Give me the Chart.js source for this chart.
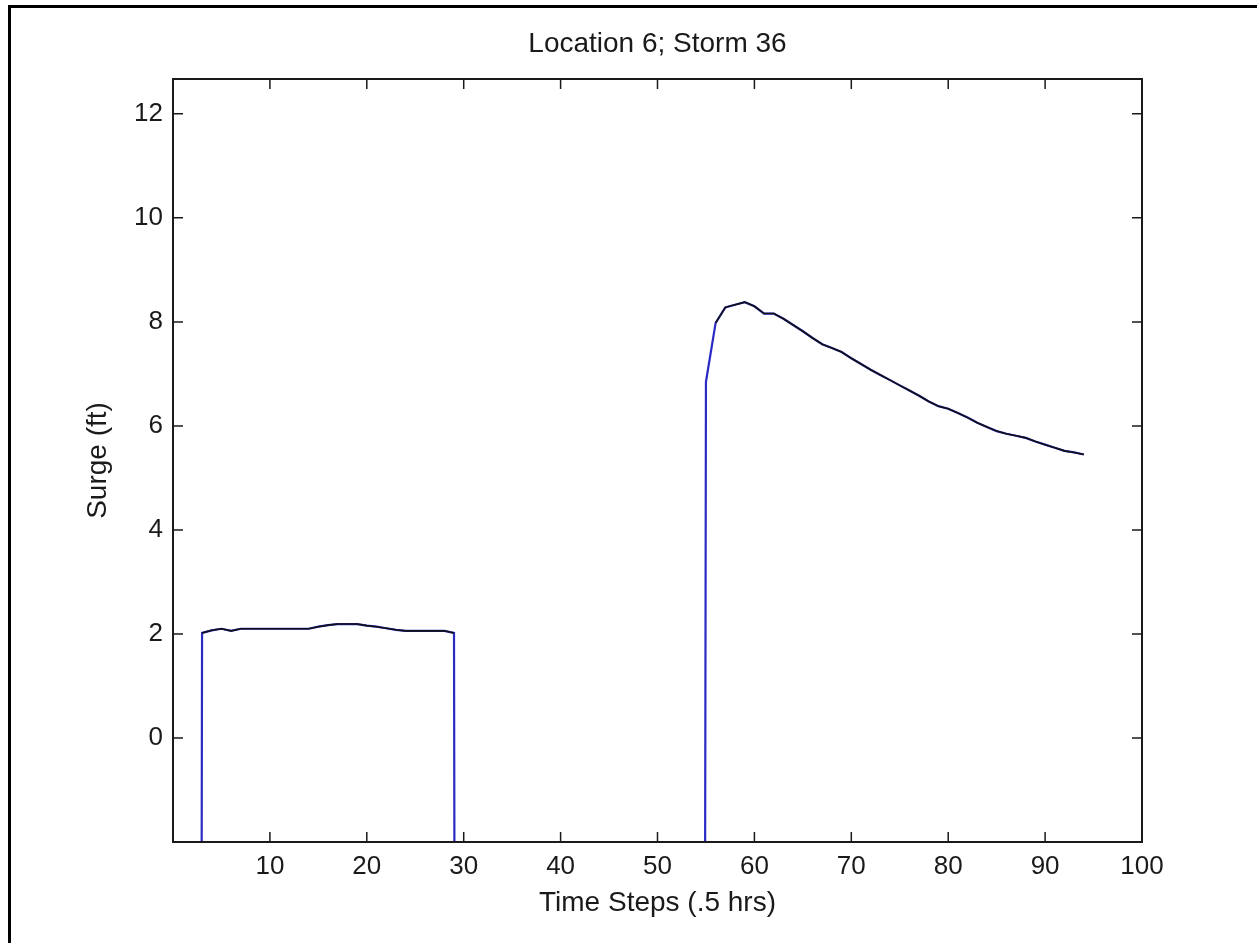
<!DOCTYPE html>
<html><head><meta charset="utf-8">
<script src="https://cdn.jsdelivr.net/npm/chart.js@4/dist/chart.umd.min.js"></script>
<style>
html,body{margin:0;padding:0;background:#fff;overflow:hidden;}
#wrap{position:relative;width:1257px;height:943px;background:#fff;}
#frame{position:absolute;left:8px;top:5px;width:1300px;height:1000px;border-left:3px solid #000;border-top:3px solid #000;pointer-events:none;}
canvas{position:absolute;left:0;top:0;}
</style></head><body>
<div id="wrap"><canvas id="c" width="1257" height="943"></canvas><div id="frame"></div></div>
<script>
// ---- data ----
const titleText = 'Location 6; Storm 36';
const xLabel = 'Time Steps (.5 hrs)';
const yLabel = 'Surge (ft)';

const timeSteps = [1,2,3,4,5,6,7,8,9,10,11,12,13,14,15,16,17,18,19,20,
  21,22,23,24,25,26,27,28,29,30,31,32,33,34,35,36,37,38,39,40,
  41,42,43,44,45,46,47,48,49,50,51,52,53,54,55,56,57,58,59,60,
  61,62,63,64,65,66,67,68,69,70,71,72,73,74,75,76,77,78,79,80,
  81,82,83,84,85,86,87,88,89,90,91,92,93,94];

// full record (dry steps stored as -99, drawn off the bottom of the axes)
const surgeAll = [-99,-99,2.02,2.07,2.10,2.06,2.10,2.10,2.10,2.10,
  2.10,2.10,2.10,2.10,2.14,2.17,2.19,2.19,2.19,2.16,
  2.14,2.11,2.08,2.06,2.06,2.06,2.06,2.06,2.02,-99,
  -99,-99,-99,-99,-99,-99,-99,-99,-99,-99,
  -99,-99,-99,-99,-99,-99,-99,-99,-99,-99,
  -99,-99,-99,-99,6.85,7.98,8.28,8.33,8.38,8.30,
  8.16,8.16,8.06,7.94,7.82,7.69,7.57,7.50,7.42,7.30,
  7.19,7.08,6.98,6.88,6.78,6.68,6.58,6.47,6.38,6.33,
  6.25,6.16,6.06,5.98,5.90,5.85,5.81,5.77,5.70,5.64,
  5.58,5.52,5.49,5.45];

// wet steps only
const surgeWet = [null,null,2.02,2.07,2.10,2.06,2.10,2.10,2.10,2.10,
  2.10,2.10,2.10,2.10,2.14,2.17,2.19,2.19,2.19,2.16,
  2.14,2.11,2.08,2.06,2.06,2.06,2.06,2.06,2.02,null,
  null,null,null,null,null,null,null,null,null,null,
  null,null,null,null,null,null,null,null,null,null,
  null,null,null,null,null,7.98,8.28,8.33,8.38,8.30,
  8.16,8.16,8.06,7.94,7.82,7.69,7.57,7.50,7.42,7.30,
  7.19,7.08,6.98,6.88,6.78,6.68,6.58,6.47,6.38,6.33,
  6.25,6.16,6.06,5.98,5.90,5.85,5.81,5.77,5.70,5.64,
  5.58,5.52,5.49,5.45];

const xTicks = [10,20,30,40,50,60,70,80,90,100];
const yTicks = [0,2,4,6,8,10,12];

// ---- chart ----
const textColor = '#1a1a1a';
const fontFamily = '"Liberation Sans", Arial, sans-serif';

const toPoints = (ys) => timeSteps.map((t, i) => ({x: t, y: ys[i]}));

const matlabAxes = {
  id: 'matlabAxes',
  afterDatasetsDraw(chart) {
    const {ctx, chartArea: a, scales: {x, y}} = chart;
    const L = 10;
    ctx.save();
    ctx.strokeStyle = '#1a1a1a';
    ctx.lineWidth = 1.5;
    ctx.beginPath();
    x.ticks.forEach(t => {
      const px = x.getPixelForValue(t.value);
      ctx.moveTo(px, a.bottom); ctx.lineTo(px, a.bottom - L);
      ctx.moveTo(px, a.top); ctx.lineTo(px, a.top + L);
    });
    y.ticks.forEach(t => {
      const py = y.getPixelForValue(t.value);
      ctx.moveTo(a.left, py); ctx.lineTo(a.left + L, py);
      ctx.moveTo(a.right, py); ctx.lineTo(a.right - L, py);
    });
    ctx.stroke();
    ctx.lineWidth = 2;
    ctx.strokeRect(a.left, a.top, a.right - a.left, a.bottom - a.top);
    ctx.restore();
  }
};

new Chart(document.getElementById('c'), {
  type: 'line',
  data: {
    datasets: [
      {label: 'wet', data: toPoints(surgeWet), borderColor: '#111111', borderWidth: 1.6,
       pointRadius: 0, tension: 0, spanGaps: false, fill: false},
      {label: 'all', data: toPoints(surgeAll), borderColor: '#2a2ac4', borderWidth: 2.2,
       pointRadius: 0, tension: 0, spanGaps: false, fill: false}
    ]
  },
  options: {
    responsive: false,
    animation: false,
    layout: {padding: {left: 0, top: 0, right: 115, bottom: 0}},
    plugins: {
      legend: {display: false},
      tooltip: {enabled: false},
      title: {display: true, text: titleText, color: textColor, fullSize: false,
        font: {family: fontFamily, size: 28, weight: 'normal', lineHeight: 1.2},
        padding: {top: 27.2, bottom: 18.2}}
    },
    scales: {
      x: {
        type: 'linear', min: 0, max: 100,
        afterBuildTicks: (s) => { s.ticks = xTicks.map(v => ({value: v})); },
        afterFit: (s) => { s.height = 101; },
        grid: {display: false, drawTicks: false},
        border: {display: false},
        ticks: {color: textColor, padding: 9.4, maxRotation: 0,
          font: {family: fontFamily, size: 26, lineHeight: 1.2}},
        title: {display: true, text: xLabel, color: textColor,
          font: {family: fontFamily, size: 28, lineHeight: 1.2},
          padding: {top: 0, bottom: 23}}
      },
      y: {
        type: 'linear', min: -2, max: 12.67,
        afterBuildTicks: (s) => { s.ticks = yTicks.map(v => ({value: v})); },
        afterFit: (s) => { s.width = 173; },
        grid: {display: false, drawTicks: false},
        border: {display: false},
        ticks: {color: textColor, padding: 10,
          font: {family: fontFamily, size: 26, lineHeight: 1.2}},
        title: {display: true, text: yLabel, color: textColor,
          font: {family: fontFamily, size: 28, lineHeight: 1.2},
          padding: {top: 81, bottom: 0}}
      }
    }
  },
  plugins: [matlabAxes]
});
</script>
</body></html>
